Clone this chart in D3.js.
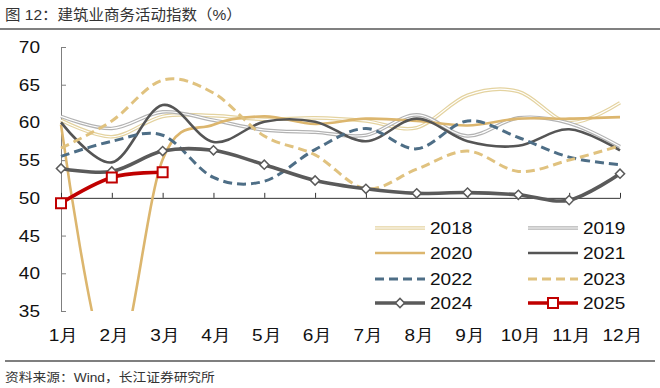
<!DOCTYPE html>
<html>
<head>
<meta charset="utf-8">
<script src="https://cdn.jsdelivr.net/npm/d3@7"></script>
<style>
  body { margin: 0; background: #fff; }
  svg { display: block; font-family: "Liberation Sans", Arial, "Noto Sans CJK SC", sans-serif; }
</style>
</head>
<body>
<svg id="chart"></svg>
<script>
// ---------------------------//
//            DATA            //
// ---------------------------//
var months = ["1月", "2月", "3月", "4月", "5月", "6月", "7月", "8月", "9月", "10月", "11月", "12月"];
var yTicks = [35, 40, 45, 50, 55, 60, 65, 70];

var s2018 = [60.3, 58.1, 60.8, 60.9, 60.4, 60.6, 60.2, 59.3, 63.6, 64.1, 60.0, 62.6];
var s2019 = [60.8, 59.2, 61.4, 60.3, 59.0, 58.7, 58.3, 61.0, 58.2, 60.6, 59.9, 56.8];
var s2020 = [59.7, 26.6, 55.1, 59.7, 60.8, 59.8, 60.5, 60.2, 59.6, 60.5, 60.5, 60.7];
var s2021 = [60.0, 54.7, 62.3, 57.4, 60.1, 60.1, 57.5, 60.5, 57.5, 56.9, 59.1, 56.3];
var s2022 = [55.5, 57.5, 58.3, 52.7, 52.2, 56.4, 59.2, 56.5, 60.2, 58.0, 55.4, 54.4];
var s2023 = [56.6, 60.2, 65.6, 63.9, 58.2, 55.7, 51.2, 53.8, 56.2, 53.5, 55.0, 56.9];
var s2024 = [53.9, 53.5, 56.2, 56.3, 54.4, 52.3, 51.2, 50.6, 50.7, 50.4, 49.7, 53.2];
var s2025 = [49.3, 52.7, 53.4];

var series = [
  { name: "2018", values: s2018, color: "#e4d3a0", width: 3.6, inner: true },
  { name: "2019", values: s2019, color: "#b3b3b3", width: 3.6, inner: true },
  { name: "2020", values: s2020, color: "#dcb66e", width: 2.6 },
  { name: "2021", values: s2021, color: "#555555", width: 2.6 },
  { name: "2022", values: s2022, color: "#4e6e86", width: 3, dash: "9,5" },
  { name: "2023", values: s2023, color: "#e0c27f", width: 3, dash: "9,5" },
  { name: "2024", values: s2024, color: "#5a5a5a", width: 3.6, marker: "diamond" },
  { name: "2025", values: s2025, color: "#c00000", width: 3.6, marker: "square" }
];

// ---------------------------//
//         DIMENSIONS         //
// ---------------------------//
var width = 660, height = 388;
var plot = { left: 61, right: 620, top: 47, bottom: 311 };
var stretch = 1.12;   // text in the picture is a little wide

var svg = d3.select("#chart")
    .attr("width", width)
    .attr("height", height);

svg.append("rect").attr("width", width).attr("height", height).attr("fill", "#fff");

// ---------------------------//
//       AXIS  AND SCALE      //
// ---------------------------//
var x = d3.scalePoint()
    .domain(months)
    .range([plot.left, plot.right]);

var y = d3.scaleLinear()
    .domain([35, 70])
    .range([plot.bottom, plot.top]);

// y axis, ticks point inwards
var yAxis = svg.append("g")
    .attr("transform", "translate(" + plot.left + ",0)")
    .call(d3.axisLeft(y).tickValues(yTicks).tickSizeInner(-5).tickSizeOuter(0).tickPadding(21));
yAxis.select(".domain").attr("stroke", "#7f7f7f");
yAxis.selectAll(".tick line").attr("stroke", "#7f7f7f");
yAxis.selectAll(".tick text")
    .attr("x", 0)
    .attr("transform", "translate(-21,0) scale(" + stretch + ",1)")
    .attr("fill", "#111")
    .style("font-size", "17px");

// x axis sits on 50, labels at the bottom
var xAxis = svg.append("g")
    .attr("transform", "translate(0," + y(50) + ")")
    .call(d3.axisBottom(x).tickSizeInner(-5).tickSizeOuter(0).tickPadding(0));
xAxis.select(".domain").attr("stroke", "#333");
xAxis.selectAll(".tick line").attr("stroke", "#333");
xAxis.selectAll(".tick text")
    .attr("y", 0)
    .attr("transform", "translate(2,131) scale(" + stretch + ",1)")
    .attr("fill", "#111")
    .style("font-size", "17px");

// ---------------------------//
//           LINES            //
// ---------------------------//
svg.append("clipPath").attr("id", "clip")
  .append("rect")
    .attr("x", plot.left - 10)
    .attr("y", plot.top - 10)
    .attr("width", plot.right - plot.left + 20)
    .attr("height", plot.bottom - plot.top + 10);

var line = d3.line()
    .x(function(d, i) { return x(months[i]); })
    .y(function(d) { return y(d); })
    .curve(d3.curveCardinal);

var lines = svg.append("g").attr("clip-path", "url(#clip)");

function markerPath(kind) {
  if (kind === "diamond") return d3.symbol(d3.symbolSquare, 42)();
  return d3.symbol(d3.symbolSquare, 100)();
}

series.forEach(function(s) {
  lines.append("path")
      .attr("d", line(s.values))
      .attr("fill", "none")
      .attr("stroke", s.color)
      .attr("stroke-width", s.width)
      .attr("stroke-dasharray", s.dash || null)
      .attr("stroke-linejoin", "round");
  if (s.inner) {
    lines.append("path")
        .attr("d", line(s.values))
        .attr("fill", "none")
        .attr("stroke", "#fff")
        .attr("stroke-width", 1.2);
  }
  if (s.marker) {
    lines.selectAll(null)
        .data(s.values)
        .enter().append("path")
        .attr("d", markerPath(s.marker))
        .attr("transform", function(d, i) {
          return "translate(" + x(months[i]) + "," + y(d) + ")" + (s.marker === "diamond" ? " rotate(45)" : "");
        })
        .attr("fill", "#fff")
        .attr("stroke", s.color)
        .attr("stroke-width", s.marker === "diamond" ? 1.5 : 2);
  }
});

// ---------------------------//
//           LEGEND           //
// ---------------------------//
var legendRows = [228, 253, 279, 303];
var legendCols = [375, 528];

var legend = svg.append("g")
    .selectAll("g")
    .data(series)
    .enter().append("g")
    .attr("transform", function(d, i) {
      return "translate(" + legendCols[i % 2] + "," + legendRows[Math.floor(i / 2)] + ")";
    });

legend.append("line")
    .attr("x1", 0).attr("x2", 50)
    .attr("stroke", function(d) { return d.color; })
    .attr("stroke-width", function(d) { return d.width; })
    .attr("stroke-dasharray", function(d) { return d.dash || null; });

legend.filter(function(d) { return d.inner; })
  .append("line")
    .attr("x1", 0).attr("x2", 50)
    .attr("stroke", "#fff")
    .attr("stroke-width", 1.2);

legend.filter(function(d) { return d.marker; })
  .append("path")
    .attr("d", function(d) { return markerPath(d.marker); })
    .attr("transform", function(d) { return "translate(25,0)" + (d.marker === "diamond" ? " rotate(45)" : ""); })
    .attr("fill", "#fff")
    .attr("stroke", function(d) { return d.color; })
    .attr("stroke-width", function(d) { return d.marker === "diamond" ? 1.5 : 2; });

legend.append("text")
    .attr("transform", "translate(55,6) scale(" + stretch + ",1)")
    .attr("fill", "#111")
    .style("font-size", "17px")
    .text(function(d) { return d.name; });

// ---------------------------//
//       TITLE AND SOURCE     //
// ---------------------------//
svg.append("text")
    .attr("transform", "translate(5,20) scale(1.07,1)")
    .attr("fill", "#333")
    .style("font-size", "14.5px")
    .text("图 12：建筑业商务活动指数（%）");

svg.append("line")
    .attr("x1", 0).attr("x2", 660)
    .attr("y1", 29).attr("y2", 29)
    .attr("stroke", "#808080")
    .attr("stroke-width", 2);

svg.append("line")
    .attr("x1", 5).attr("x2", 655)
    .attr("y1", 361).attr("y2", 361)
    .attr("stroke", "#555")
    .attr("stroke-width", 1.5);

svg.append("text")
    .attr("transform", "translate(5,382) scale(1.1,1)")
    .attr("fill", "#333")
    .style("font-size", "12.5px")
    .text("资料来源：Wind，长江证券研究所");
</script>
</body>
</html>
